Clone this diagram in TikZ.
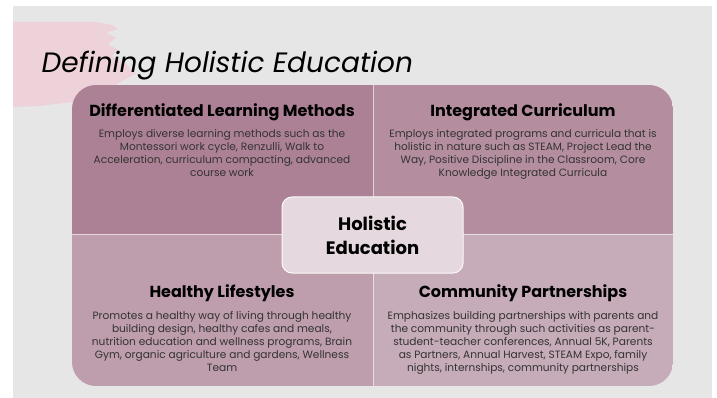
\documentclass[tikz,border=0pt]{standalone}
\usepackage{fontspec}
\setmainfont{Poppins}
\usetikzlibrary{positioning}
\definecolor{slidegray}{HTML}{E6E6E6}
\definecolor{brushpink}{HTML}{EDD3D9}
\definecolor{quadtl}{HTML}{AD8195}
\definecolor{quadtr}{HTML}{B48E9F}
\definecolor{quadbl}{HTML}{BE9DAC}
\definecolor{quadbr}{HTML}{C6ABB8}
\definecolor{hubfill}{HTML}{E5D8DE}
\definecolor{bodygray}{HTML}{333333}
\tikzset{
  quadhead/.style={font=\bfseries\fontsize{16}{18}\selectfont, text=black, inner sep=0pt},
  quadtext/.style={font=\fontsize{10.6}{13}\selectfont, text=bodygray, align=center, inner sep=0pt},
  divider/.style={draw=white, opacity=0.6, line width=0.8pt},
  hubbox/.style={draw=white!85!hubfill, line width=1pt, fill=hubfill, rounded corners=10pt,
    minimum width=181pt, minimum height=76pt, align=center,
    font=\bfseries\fontsize{18}{24}\selectfont}
}
\begin{document}
\begin{tikzpicture}[x=1pt,y=-1pt]
  \useasboundingbox (0,0) rectangle (717,398);
  \fill[slidegray] (13,6) rectangle (712,398);
  % brush stroke behind the title
  \fill[brushpink] (13,22) -- (96,22) -- (112,25) -- (118,29) -- (106,33) -- (116,38)
    -- (108,44) -- (118,50) -- (112,56) -- (126,64) -- (136,74) -- (124,80) -- (110,88)
    -- (90,96) -- (72,102) -- (40,106) -- (13,107) -- cycle;
  \node[anchor=base west, font=\itshape\fontsize{28}{30}\selectfont] (title) at (38,73) {Defining Holistic Education};
  % four quadrants
  \begin{scope}
    \clip[rounded corners=24pt] (72,85) rectangle (673,386);
    \fill[quadtl] (72,85) rectangle (373,234);
    \fill[quadtr] (373,85) rectangle (673,234);
    \fill[quadbl] (72,234) rectangle (373,386);
    \fill[quadbr] (373,234) rectangle (673,386);
    \draw[divider] (373,85) -- (373,386);
    \draw[divider] (72,234) -- (673,234);
  \end{scope}
  \node[hubbox] (hub) at (372.5,235) {Holistic\\Education};
  \node[quadhead] (dlmhead) at (222,112) {Differentiated Learning Methods};
  \node[quadtext, below=8pt of dlmhead] (dlmtext) {Employs diverse learning methods such as the\\
    Montessori work cycle, Renzulli, Walk to\\
    Acceleration, curriculum compacting, advanced\\
    course work};
  \node[quadhead] (icurhead) at (523,112) {Integrated Curriculum};
  \node[quadtext, below=8pt of icurhead] (icurtext) {Employs integrated programs and curricula that is\\
    holistic in nature such as STEAM, Project Lead the\\
    Way, Positive Discipline in the Classroom, Core\\
    Knowledge Integrated Curricula};
  \node[quadhead] (hlifehead) at (222,293) {Healthy Lifestyles};
  \node[quadtext, below=9pt of hlifehead] (hlifetext) {Promotes a healthy way of living through healthy\\
    building design, healthy cafes and meals,\\
    nutrition education and wellness programs, Brain\\
    Gym, organic agriculture and gardens, Wellness\\
    Team};
  \node[quadhead] (cparthead) at (523,293) {Community Partnerships};
  \node[quadtext, below=9pt of cparthead] (cparttext) {Emphasizes building partnerships with parents and\\
    the community through such activities as parent-\\
    student-teacher conferences, Annual 5K, Parents\\
    as Partners, Annual Harvest, STEAM Expo, family\\
    nights, internships, community partnerships};
\end{tikzpicture}
\end{document}
